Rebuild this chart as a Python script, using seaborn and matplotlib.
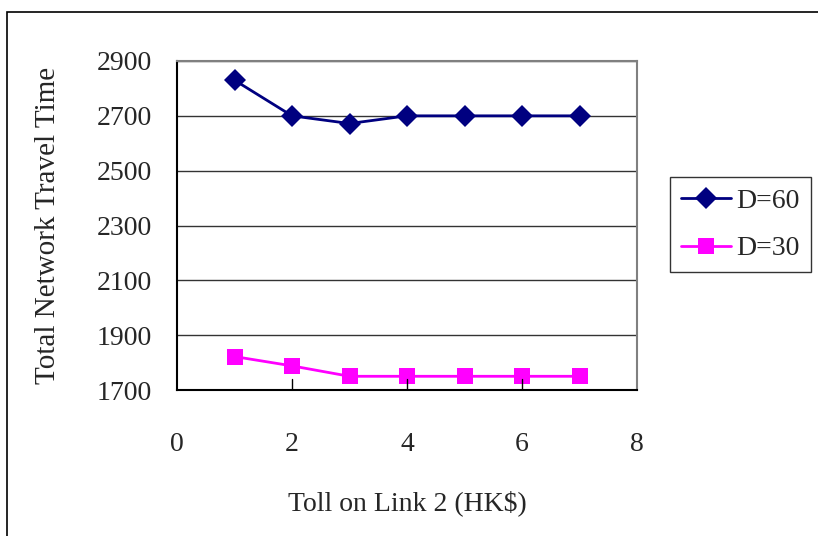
import seaborn as sns
import matplotlib.pyplot as plt
import matplotlib.patches as mpatches
import pandas as pd

# values
toll = [1, 2, 3, 4, 5, 6, 7]
d60 = [2830, 2700, 2672, 2700, 2700, 2700, 2700]
d30 = [1822, 1788, 1750, 1750, 1750, 1750, 1750]
series_names = ["D=60", "D=30"]
colors = ["#000080", "#FF00FF"]
markers = ["D", "s"]

df = pd.DataFrame({
    "Toll": toll * 2,
    "Time": d60 + d30,
    "Series": [series_names[0]] * len(toll) + [series_names[1]] * len(toll),
})

sns.set_style("white")
plt.rcParams["font.family"] = ["Liberation Serif", "DejaVu Serif"]

fig = plt.figure(figsize=(8.18, 5.36), dpi=100)
ax = fig.add_axes([177 / 818, 1 - 390 / 536, 460 / 818, 329 / 536])

sns.lineplot(
    data=df, x="Toll", y="Time", hue="Series", style="Series",
    palette=colors, markers=markers, dashes=False, markersize=11,
    markeredgewidth=0, linewidth=2, ax=ax, legend=True,
)

ax.set_xlim(0, 8)
ax.set_ylim(1700, 2900)
ax.set_xticks([0, 2, 4, 6, 8])
ax.set_yticks(range(1700, 3000, 200))
ax.yaxis.grid(True, color="#333333", linewidth=1)
ax.set_axisbelow(True)
ax.tick_params(axis="both", labelsize=20, length=0)
ax.tick_params(axis="y", pad=18)
ax.tick_params(axis="x", pad=30)
for x in [2, 4, 6]:
    ax.plot([x, x], [1700, 1700 + 40], color="black", lw=1)

for side in ["top", "right"]:
    ax.spines[side].set_color("#808080")
for side in ["left", "bottom"]:
    ax.spines[side].set_color("black")
for s in ax.spines.values():
    s.set_linewidth(1.5)

ax.set_xlabel("Toll on Link 2 (HK$)", fontsize=20, labelpad=24)
ax.set_ylabel("Total Network Travel Time", fontsize=21, labelpad=26)

leg = ax.legend(
    loc="upper left", bbox_to_anchor=(670 / 818, 1 - 177 / 536),
    bbox_transform=fig.transFigure, borderaxespad=0, fontsize=20,
    frameon=True, fancybox=False, edgecolor="black", handlelength=1.8,
    handletextpad=0.2, borderpad=0.4, labelspacing=0.8,
)
leg.get_frame().set_linewidth(1)

# outer chart border
fig.patches.append(mpatches.Rectangle(
    (7 / 818, -0.1), 1.2, 1 - 12 / 536 + 0.1, transform=fig.transFigure,
    fill=False, edgecolor="black", linewidth=1.2, zorder=0,
))

fig.savefig("out.png", dpi=100)
